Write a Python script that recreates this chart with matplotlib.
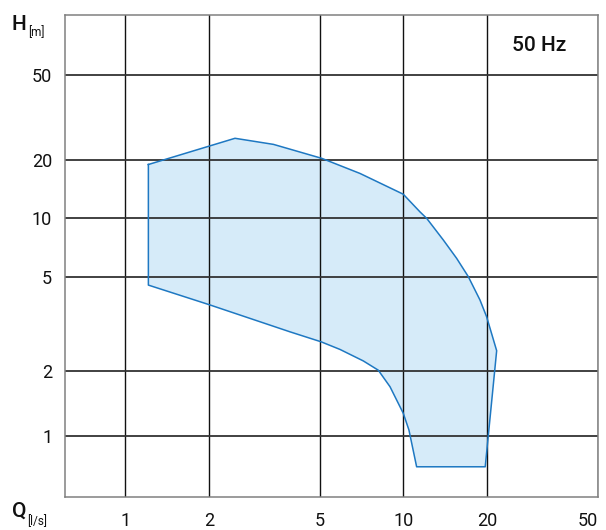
import numpy as np
import matplotlib
matplotlib.use("Agg")
import matplotlib.pyplot as plt

plt.rcParams['font.family'] = ['Roboto', 'DejaVu Sans']

# operating range outline, Q [l/s] and H [m]
q = [1.21, 2.48, 3.41, 5.09, 6.99, 10.0, 11.48, 12.14, 13.93, 15.56, 17.13,
     18.88, 19.95, 21.68, 19.72, 11.17, 10.48, 10.0, 8.96, 8.13, 7.18,
     5.92, 5.06, 3.91, 2.005, 1.21]
h = [18.9, 25.2, 23.6, 20.3, 17.0, 13.3, 10.8, 10.0, 7.73, 6.21, 5.0,
     3.98, 3.38, 2.43, 0.718, 0.718, 1.063, 1.27, 1.686, 2.01, 2.20,
     2.46, 2.65, 2.92, 3.80, 4.60]

q_ticks = [1, 2, 5, 10, 20, 50]
h_ticks = [1, 2, 5, 10, 20, 50]

# the printed H grid is not evenly logarithmic, so map it piecewise
grid_pos = np.array([61, 126, 220.2, 278.4, 337, 422])
axis_len = 482
log_t = np.log10(h_ticks)
slope_lo = (grid_pos[1] - grid_pos[0]) / (log_t[1] - log_t[0])
slope_hi = (grid_pos[-1] - grid_pos[-2]) / (log_t[-1] - log_t[-2])


def h_fwd(v):
    lv = np.log10(np.maximum(np.asarray(v, dtype=float), 1e-12))
    out = np.interp(lv, log_t, grid_pos)
    out = np.where(lv < log_t[0], grid_pos[0] + (lv - log_t[0]) * slope_lo, out)
    out = np.where(lv > log_t[-1], grid_pos[-1] + (lv - log_t[-1]) * slope_hi, out)
    return out


def h_inv(p):
    p = np.asarray(p, dtype=float)
    out = np.interp(p, grid_pos, log_t)
    out = np.where(p < grid_pos[0], log_t[0] + (p - grid_pos[0]) / slope_lo, out)
    out = np.where(p > grid_pos[-1], log_t[-1] + (p - grid_pos[-1]) / slope_hi, out)
    return 10 ** out


fig = plt.figure(figsize=(6.06, 5.30), dpi=100)
ax = fig.add_axes([0.1068, 0.0628, 0.8800, 0.9094])

ax.set_xscale('log')
ax.set_yscale('function', functions=(h_fwd, h_inv))
ax.set_xlim(0.605, 50.2)
ax.set_ylim(float(h_inv(0)), float(h_inv(axis_len)))

ax.fill(q, h, facecolor='#d6ebf9', edgecolor='none', zorder=1)
ax.plot(q + q[:1], h + h[:1], color='#1e78c2', lw=1.1, zorder=3)

ax.set_xticks(q_ticks)
ax.set_xticklabels([str(t) for t in q_ticks])
ax.set_yticks(h_ticks)
ax.set_yticklabels([str(t) for t in h_ticks])
ax.minorticks_off()
ax.tick_params(axis='x', length=0, pad=11, labelsize=13, labelcolor='#111')
ax.tick_params(axis='y', length=0, pad=9, labelsize=13, labelcolor='#111')
# last Q label sits at the right edge, keep it inside
ax.get_xticklabels()[-1].set_horizontalalignment('right')

ax.xaxis.grid(True, color='#111111', lw=1.0, zorder=2)
ax.yaxis.grid(True, color='#333333', lw=1.3, zorder=2)
for s in ax.spines.values():
    s.set_color('#808080')
    s.set_linewidth(1.1)

ax.text(0.889, 0.936, '50 Hz', transform=ax.transAxes, ha='center',
        va='center', fontsize=15, fontweight='medium', color='#111')

fig.text(0.0198, 0.9434, 'H', fontsize=15, fontweight='medium', va='baseline', color='#111')
fig.text(0.0460, 0.932, '[m]', fontsize=8.5, va='baseline', color='#111')
fig.text(0.0195, 0.0245, 'Q', fontsize=15, fontweight='medium', va='baseline', color='#111')
fig.text(0.0440, 0.0094, '[l/s]', fontsize=8.5, va='baseline', color='#111')

fig.savefig('out.png', dpi=100)
